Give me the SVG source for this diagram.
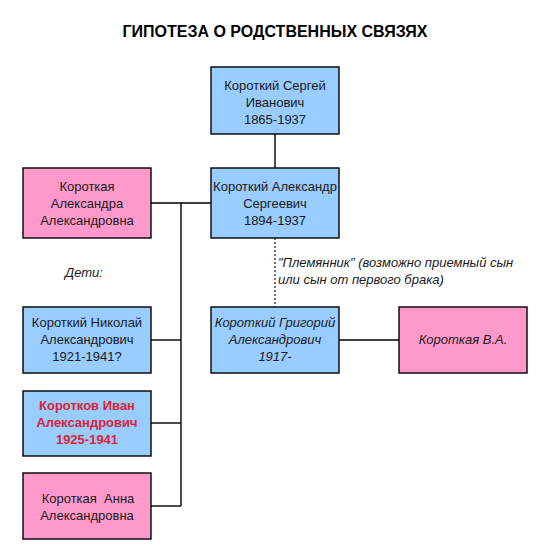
<svg xmlns="http://www.w3.org/2000/svg" width="553" height="560" viewBox="0 0 553 560">
<style>
.bg{fill:#ffffff}
.m{fill:#99ccff;stroke:#000;stroke-width:1.4}
.f{fill:#ff99cc;stroke:#000;stroke-width:1.4}
text{font-family:"Liberation Sans",Arial,sans-serif;font-size:13px;fill:#1a1a1a;text-anchor:middle}
.i{font-style:italic}
.r{fill:#dd2233;font-weight:bold}
.t{font-size:16px;font-weight:bold;fill:#000}
.c line{stroke:#000;stroke-width:1.4}
.c line.d{stroke-width:1.1;stroke-dasharray:2 2}
</style>
<rect class="bg" x="0" y="0" width="553" height="560"/>
<text class="t" x="275" y="37">ГИПОТЕЗА О РОДСТВЕННЫХ СВЯЗЯХ</text>
<g class="c" id="connectors">
<line x1="275" y1="134" x2="275" y2="168"/>
<line x1="151" y1="203" x2="211" y2="203"/>
<line x1="181" y1="203" x2="181" y2="506"/>
<line x1="151" y1="340" x2="181" y2="340"/>
<line x1="151" y1="423" x2="181" y2="423"/>
<line x1="151" y1="506" x2="181" y2="506"/>
<line class="d" x1="275" y1="238" x2="275" y2="307"/>
<line x1="339" y1="340" x2="399" y2="340"/>
</g>
<g id="sergey">
<rect class="m" x="211" y="67" width="128" height="67"/>
<text x="275" y="90">Короткий Сергей</text>
<text x="275" y="107">Иванович</text>
<text x="275" y="124">1865-1937</text>
</g>
<g id="alexandr">
<rect class="m" x="211" y="168" width="128" height="70"/>
<text x="275" y="191">Короткий Александр</text>
<text x="275" y="208">Сергеевич</text>
<text x="275" y="225">1894-1937</text>
</g>
<g id="alexandra">
<rect class="f" x="23" y="168" width="128" height="70"/>
<text x="87" y="191">Короткая</text>
<text x="87" y="208">Александра</text>
<text x="87" y="225">Александровна</text>
</g>
<g id="deti-label">
<text class="i" x="84" y="277">Дети:</text>
</g>
<g id="plemyannik-label">
<text class="i" x="278" y="267" style="text-anchor:start">"Племянник" (возможно приемный сын</text>
<text class="i" x="278" y="284" style="text-anchor:start">или сын от первого брака)</text>
</g>
<g id="nikolay">
<rect class="m" x="23" y="307" width="128" height="66"/>
<text x="87" y="327">Короткий Николай</text>
<text x="87" y="344">Александрович</text>
<text x="87" y="361">1921-1941?</text>
</g>
<g id="ivan">
<rect class="m" x="23" y="391" width="128" height="65"/>
<text class="r" x="87" y="410">Коротков Иван</text>
<text class="r" x="87" y="427">Александрович</text>
<text class="r" x="87" y="444">1925-1941</text>
</g>
<g id="anna">
<rect class="f" x="23" y="473" width="128" height="66"/>
<text x="88" y="503">Короткая&#160; Анна</text>
<text x="87" y="520">Александровна</text>
</g>
<g id="grigoriy">
<rect class="m" x="211" y="307" width="128" height="66"/>
<text class="i" x="275" y="327">Короткий Григорий</text>
<text class="i" x="275" y="344">Александрович</text>
<text class="i" x="275" y="361">1917-</text>
</g>
<g id="va">
<rect class="f" x="399" y="307" width="128" height="66"/>
<text class="i" x="463" y="344">Короткая В.А.</text>
</g>
</svg>
